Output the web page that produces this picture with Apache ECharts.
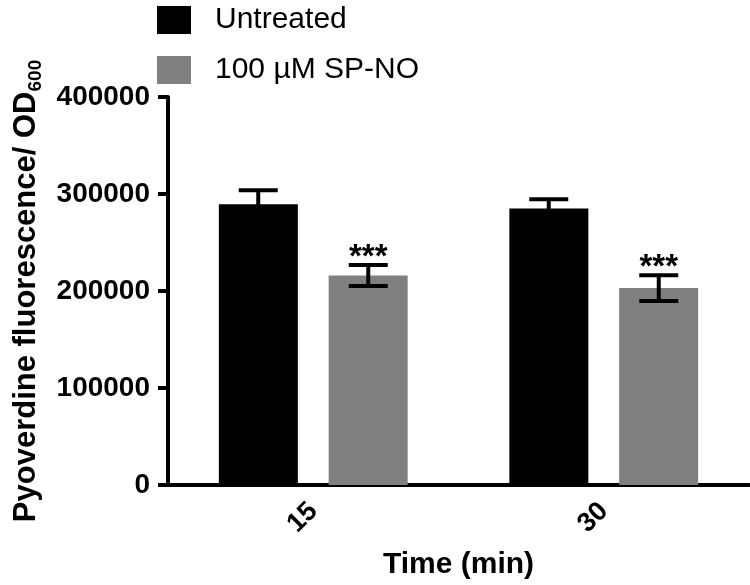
<!DOCTYPE html>
<html>
<head>
<meta charset="utf-8">
<script src="https://cdn.jsdelivr.net/npm/echarts@6/dist/echarts.min.js"></script>
<style>html,body{margin:0;padding:0;background:#fff;}#c{width:750px;height:585px;}</style>
</head>
<body>
<div id="c"></div>
<script>
// ---- data ----
const categories = ['15', '30'];
const seriesNames = ['Untreated', '100 µM SP-NO'];
const untreated = [289500, 285000];
const untreatedSem = [14300, 9500];
const spno = [216000, 203000];
const spnoSem = [10800, 13300];
const significance = ['***', '***'];

// ---- styles ----
const FONT = '"Liberation Sans", Arial, Helvetica, sans-serif';
const BAR_W = 79;
const BAR_OFFSET = 55;
const CAP_HALF = 19.5;
const colors = ['#000000', '#808080'];

const errData = [];
categories.forEach((c, i) => {
  errData.push([i, untreated[i], untreatedSem[i], 0, '']);
  errData.push([i, spno[i], spnoSem[i], 1, significance[i]]);
});

const chart = echarts.init(document.getElementById('c'), null, {renderer: 'canvas'});
chart.setOption({
  animation: false,
  backgroundColor: '#fff',
  textStyle: {fontFamily: FONT},
  legend: {
    orient: 'vertical',
    left: 152, top: 0,
    itemWidth: 34, itemHeight: 28, itemGap: 20,
    icon: 'rect',
    textStyle: {fontSize: 30, color: '#000', fontFamily: FONT, padding: [0, 0, 0, 19]},
    data: seriesNames
  },
  grid: {left: 168, right: 1, top: 97, bottom: 98, containLabel: false},
  xAxis: {
    type: 'category',
    data: categories,
    name: 'Time (min)',
    nameLocation: 'middle',
    nameGap: 65,
    nameTextStyle: {fontSize: 30, fontWeight: 'bold', color: '#000', fontFamily: FONT},
    axisLine: {lineStyle: {color: '#000', width: 4}},
    axisTick: {alignWithLabel: true, length: 9, lineStyle: {color: '#000', width: 4}},
    axisLabel: {rotate: 45, fontSize: 27, fontWeight: 'bold', color: '#000', margin: 22, fontFamily: FONT}
  },
  yAxis: {
    type: 'value',
    min: 0, max: 400000, interval: 100000,
    name: '{a|Pyoverdine fluorescence/ OD}{b|600}',
    nameLocation: 'middle',
    nameRotate: 90,
    nameGap: 124,
    nameTextStyle: {
      color: '#000', fontFamily: FONT,
      rich: {
        a: {fontSize: 31, fontWeight: 'bold', color: '#000', fontFamily: FONT, lineHeight: 32, verticalAlign: 'top'},
        b: {fontSize: 19, fontWeight: 'bold', color: '#000', fontFamily: FONT, lineHeight: 19, padding: [16, 0, 0, 0], verticalAlign: 'top'}
      }
    },
    splitLine: {show: false},
    axisLine: {show: true, lineStyle: {color: '#000', width: 4}},
    axisTick: {show: true, length: 10, lineStyle: {color: '#000', width: 4}},
    axisLabel: {fontSize: 28, fontWeight: 'bold', color: '#000', margin: 18, fontFamily: FONT,
      formatter: v => String(v)}
  },
  series: [
    {name: seriesNames[0], type: 'bar', data: untreated, barWidth: BAR_W, barGap: '39%',
      itemStyle: {color: colors[0]}},
    {name: seriesNames[1], type: 'bar', data: spno, barWidth: BAR_W, barGap: '39%',
      itemStyle: {color: colors[1]}},
    {
      type: 'custom',
      data: errData,
      z: 10,
      renderItem: function (params, api) {
        const x = api.value(0), mean = api.value(1), sem = api.value(2), s = api.value(3);
        const star = errData[params.dataIndex][4];
        const base = api.coord([x, mean]);
        const hi = api.coord([x, mean + sem]);
        const lo = api.coord([x, mean - sem]);
        const cx = base[0] + (s === 0 ? -BAR_OFFSET : BAR_OFFSET);
        const st = {stroke: '#000', lineWidth: 4};
        const children = [
          {type: 'line', shape: {x1: cx, y1: lo[1], x2: cx, y2: hi[1]}, style: st},
          {type: 'line', shape: {x1: cx - CAP_HALF, y1: hi[1], x2: cx + CAP_HALF, y2: hi[1]}, style: st},
          {type: 'line', shape: {x1: cx - CAP_HALF, y1: lo[1], x2: cx + CAP_HALF, y2: lo[1]}, style: st}
        ];
        if (star) {
          children.push({type: 'text', style: {text: star, x: cx, y: hi[1] + 9, align: 'center', verticalAlign: 'bottom',
            fontSize: 33, fontWeight: 'bold', fill: '#000', fontFamily: FONT}});
        }
        return {type: 'group', children: children};
      }
    }
  ]
});
</script>
</body>
</html>
